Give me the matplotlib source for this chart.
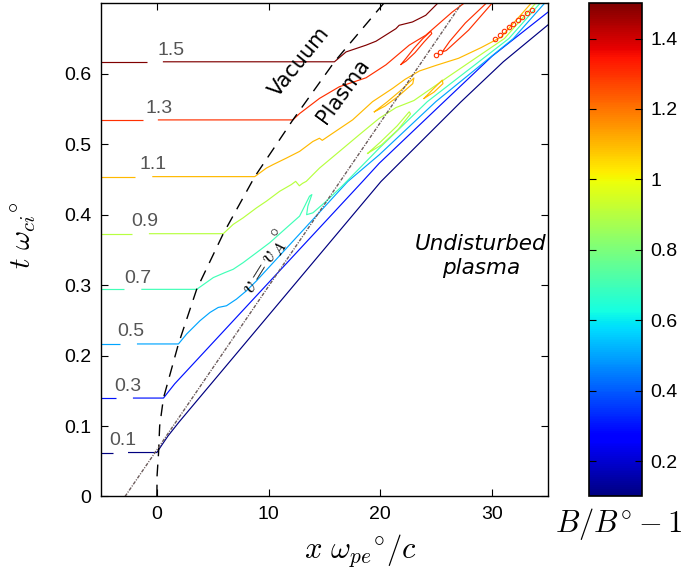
import matplotlib
matplotlib.use("Agg")
import matplotlib.pyplot as plt
from matplotlib.colors import Normalize
from matplotlib.cm import ScalarMappable

plt.rcParams['mathtext.fontset'] = 'cm'
plt.rcParams['font.family'] = ['Liberation Sans', 'DejaVu Sans']

# ---- field levels (B/B0 - 1) ----
levels = [0.1, 0.3, 0.5, 0.7, 0.9, 1.1, 1.3, 1.5]
level_text = ["0.1", "0.3", "0.5", "0.7", "0.9", "1.1", "1.3", "1.5"]

# ---- iso-field lines, (x w_pe/c, t w_ci) ----
iso_01 = [(-5, 0.0624), (0.0, 0.0624), (0.4, 0.072), (1.0, 0.086), (2.0, 0.106),
          (20.05, 0.447), (27.2, 0.560), (31.0, 0.617), (35.2, 0.672)]
iso_03 = [(-5, 0.1397), (0.59, 0.1397), (1.0, 0.148), (1.6, 0.160), (18.4, 0.447),
          (19.9, 0.473), (25.7, 0.5604), (30.0, 0.625), (35.2, 0.690)]
iso_05 = [(-5, 0.2165), (1.93, 0.2165), (2.67, 0.2307), (3.86, 0.2495), (4.75, 0.2612),
          (5.49, 0.2683), (6.23, 0.2707), (7.12, 0.2801), (8.01, 0.2919), (8.91, 0.306),
          (17.08, 0.447), (19.9, 0.485), (24.96, 0.5604), (31.9, 0.650), (34.8, 0.702)]
iso_07 = [(-5, 0.294), (3.56, 0.294), (5.05, 0.3107), (6.09, 0.3178), (6.83, 0.3225),
          (7.72, 0.3319), (8.91, 0.346), (10.1, 0.3602), (11.59, 0.3813), (12.77, 0.3979),
          (13.22, 0.412), (13.66, 0.4262), (13.87, 0.4285), (13.51, 0.412), (13.4, 0.400),
          (13.96, 0.4026), (15.15, 0.419), (16.6, 0.441), (19.9, 0.4944), (24.2, 0.5604),
          (31.5, 0.650), (34.4, 0.702)]
iso_09 = [(-5, 0.373), (5.94, 0.373), (6.83, 0.3862), (7.72, 0.3955), (8.91, 0.4096),
          (9.8, 0.4191), (10.99, 0.4332), (12.03, 0.4427), (12.42, 0.4473), (12.75, 0.441),
          (13.04, 0.4445), (13.37, 0.4473), (14.55, 0.4661), (16.33, 0.4897), (18.11, 0.5134),
          (19.9, 0.5368), (21.4, 0.552), (23.0, 0.562), (26.0, 0.595), (31.1, 0.650),
          (34.0, 0.702)]
iso_11 = [(-5, 0.454), (8.76, 0.454), (9.8, 0.4661), (10.39, 0.471), (11.59, 0.4803),
          (12.77, 0.4898), (13.96, 0.5039), (14.55, 0.5085), (14.8, 0.5055), (15.74, 0.5156),
          (17.52, 0.5346), (19.3, 0.5604), (21.09, 0.5792), (22.2, 0.592), (23.5, 0.604),
          (25.0, 0.612), (27.0, 0.622), (29.0, 0.637), (30.8, 0.652), (33.6, 0.702)]
iso_13 = [(-5, 0.5345), (12.17, 0.5345), (12.77, 0.5435), (14.55, 0.565), (16.33, 0.5816),
          (18.72, 0.5943), (20.5, 0.6127), (22.58, 0.6406), (24.06, 0.6547), (25.24, 0.6711),
          (26.43, 0.6876), (27.63, 0.7018)]
iso_15 = [(-5, 0.617), (15.89, 0.617), (16.93, 0.631), (18.72, 0.6406), (19.61, 0.6462),
          (21.39, 0.664), (21.68, 0.6688), (22.87, 0.6735), (24.06, 0.683), (25.24, 0.7018)]
iso_main = [iso_01, iso_03, iso_05, iso_07, iso_09, iso_11, iso_13, iso_15]

# closed tongues / islands: (level, points)
tongue_13a = [(21.84, 0.6132), (22.3, 0.622), (23.0, 0.636), (23.8, 0.650), (24.51, 0.6603),
              (24.6, 0.657), (23.9, 0.645), (23.1, 0.630), (22.3, 0.618), (21.84, 0.6132)]
tongue_13b = [(29.6, 0.702), (27.6, 0.672), (26.2, 0.646), (25.54, 0.631), (25.9, 0.633),
              (27.9, 0.662), (30.1, 0.702)]
tongue_11a = [(19.46, 0.546), (20.6, 0.560), (21.8, 0.576), (23.0, 0.594), (22.9, 0.586),
              (21.6, 0.568), (20.4, 0.554), (19.46, 0.546)]
tongue_11b = [(23.91, 0.565), (24.7, 0.578), (25.54, 0.591), (25.6, 0.586), (24.8, 0.574),
              (23.91, 0.565)]
tongue_09 = [(18.86, 0.487), (20.0, 0.503), (21.5, 0.526), (22.58, 0.546), (22.7, 0.543),
             (21.6, 0.521), (20.1, 0.499), (18.86, 0.487)]
tongues = [(1.3, tongue_13a), (1.3, tongue_13b), (1.1, tongue_11a), (1.1, tongue_11b),
           (0.9, tongue_09)]

# small overshoot islands near the front
island_x = [25.0, 25.3, 30.3, 30.75, 31.1, 31.55, 31.9, 32.35, 32.7, 33.15, 33.55]
island_t = [0.626, 0.631, 0.650, 0.655, 0.661, 0.666, 0.671, 0.676, 0.681, 0.686, 0.690]

# piston (vacuum / plasma boundary)
piston_x = [0.0, 0.02, 0.15, 0.25, 0.59, 1.93, 3.56, 5.94, 8.76, 12.17, 15.89, 20.3]
piston_t = [0.0, 0.03, 0.062, 0.10, 0.1397, 0.2165, 0.294, 0.373, 0.454, 0.5345, 0.617, 0.70]

# Alfven characteristic v = vA
alfven_x = [-2.85, 27.28]
alfven_t = [0.0, 0.70]

# inline label placement and gaps in the horizontal parts
label_x = [-3.03, -2.62, -2.32, -1.73, -1.07, -0.30, 0.20, 1.25]
label_t = [0.0789, 0.1558, 0.2339, 0.3098, 0.3898, 0.471, 0.551, 0.6335]
gap_lo = [-3.92, -3.63, -3.27, -2.98, -2.23, -1.93, -1.25, -0.89]
gap_hi = [-2.53, -2.09, -1.73, -1.34, -0.66, -0.36, 0.14, 0.59]

cmap = plt.get_cmap('jet')
norm = Normalize(vmin=0.1, vmax=1.5)

fig = plt.figure(figsize=(6.88, 5.71), dpi=100)
ax = fig.add_axes([0.1468, 0.1305, 0.6497, 0.8637])
cax = fig.add_axes([0.856, 0.1305, 0.0767, 0.8637])

lw = 0.85
for lev, path, glo, ghi in zip(levels, iso_main, gap_lo, gap_hi):
    col = cmap(norm(lev))
    t0 = path[0][1]
    ax.plot([path[0][0], glo], [t0, t0], color=col, lw=lw, solid_capstyle='butt')
    seg = [(ghi, t0)] + path[1:]
    ax.plot([p[0] for p in seg], [p[1] for p in seg], color=col, lw=lw)

for lev, path in tongues:
    ax.plot([p[0] for p in path], [p[1] for p in path], color=cmap(norm(lev)), lw=lw)

ax.plot(island_x, island_t, ls='none', marker='o', ms=3.2, mfc='none',
        mec=cmap(norm(1.3)), mew=0.8)

for lx, lt, txt in zip(label_x, label_t, level_text):
    ax.text(lx, lt, txt, color='#555555', fontsize=14, ha='center', va='center')

ax.plot(piston_x, piston_t, color='black', lw=1.0, ls=(0, (8.5, 6)))
ax.plot(alfven_x, alfven_t, color='#6b5b5b', lw=1.0, ls=(0, (2.5, 1.0, 0.8, 1.0)))

ax.text(12.77, 0.617, 'Vacuum', rotation=51, fontsize=15, family='DejaVu Sans',
        ha='center', va='center', rotation_mode='anchor')
ax.text(16.71, 0.5757, 'Plasma', rotation=54, fontsize=15, family='DejaVu Sans',
        ha='center', va='center', rotation_mode='anchor')
ax.text(9.79, 0.3314, r'$v = v_A{}^{\circ}$', rotation=58, fontsize=16.5,
        ha='center', va='center', rotation_mode='anchor')
ax.text(28.99, 0.3413, 'Undisturbed\nplasma', fontsize=15.5, family='DejaVu Sans',
        style='italic', ha='center', va='center', linespacing=1.2)

ax.set_xlim(-5, 35)
ax.set_ylim(0, 0.7)
ax.set_xticks([0, 10, 20, 30])
ax.set_yticks([0, 0.1, 0.2, 0.3, 0.4, 0.5, 0.6])
ax.set_yticklabels(["0", "0.1", "0.2", "0.3", "0.4", "0.5", "0.6"])
ax.tick_params(direction='in', length=5, width=0.8, top=True, right=True,
               labelsize=14, pad=7)
for s in ax.spines.values():
    s.set_linewidth(1.0)
ax.set_xlabel(r'$x\ \omega_{pe}{}^{\circ}/c$', fontsize=22)
ax.xaxis.set_label_coords((360 - 101) / 447.0, -0.072)
ax.set_ylabel(r'$t\ \omega_{ci}{}^{\circ}$', fontsize=21)
ax.yaxis.set_label_coords(-0.14, 0.53)

sm = ScalarMappable(norm=norm, cmap=cmap)
cb = fig.colorbar(sm, cax=cax)
cb.set_ticks([0.2, 0.4, 0.6, 0.8, 1.0, 1.2, 1.4])
cb.set_ticklabels(["0.2", "0.4", "0.6", "0.8", "1", "1.2", "1.4"])
cax.tick_params(direction='in', length=5, width=0.8, left=True, right=True,
                labelsize=14, pad=6)
cb.outline.set_linewidth(1.2)
cax.text(0.57, -0.055, r'$B/B^{\circ}-1$', transform=cax.transAxes, fontsize=22,
         ha='center', va='center')

fig.savefig('out.png', dpi=100)
